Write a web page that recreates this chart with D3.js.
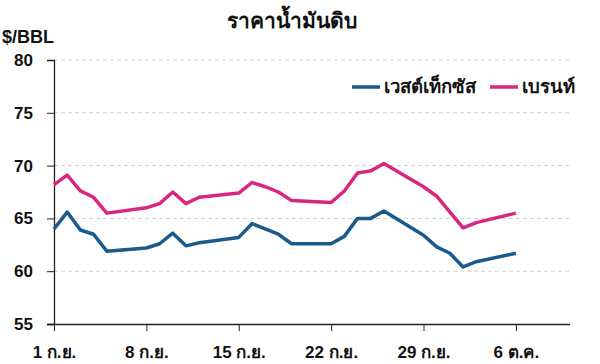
<!DOCTYPE html>
<html><head><meta charset="utf-8">
<script src="https://cdn.jsdelivr.net/npm/d3@7/dist/d3.min.js"></script>
<style>body{margin:0;background:#fff}text{font-family:"Liberation Sans","Noto Sans","DejaVu Sans",sans-serif}</style>
</head><body><svg id="c" width="600" height="364"></svg>
<script>
// day number counted from 1 September (1..36 => 6 October)
const days = [1,2,3,4,5,8,9,10,11,12,15,16,17,18,19,22,23,24,25,26,29,30,31,32,33,36];
const wti   = [64.0,65.6,63.9,63.5,61.9,62.2,62.6,63.6,62.4,62.7,63.2,64.5,64.0,63.5,62.6,62.6,63.3,65.0,65.0,65.7,63.4,62.3,61.7,60.4,60.9,61.7];
const brent = [68.2,69.1,67.6,67.0,65.5,66.0,66.4,67.5,66.4,67.0,67.4,68.4,68.0,67.5,66.7,66.5,67.6,69.3,69.5,70.2,68.0,67.1,65.6,64.1,64.6,65.5];
const xTickDays = [1,8,15,22,29,36];
const xTickLabels = ["1 ก.ย.","8 ก.ย.","15 ก.ย.","22 ก.ย.","29 ก.ย.","6 ต.ค."];
const yTicks = [55,60,65,70,75,80];
const seriesNames = ["เวสต์เท็กซัส","เบรนท์"];
const colors = ["#1b5a8a","#d9277f"];

const svg = d3.select("#c");
const x = d3.scaleLinear().domain([1,40.1]).range([54,570]);
const y = d3.scaleLinear().domain([55,80]).range([324,60]);

// grid
svg.append("g").selectAll("line").data(yTicks.filter(v=>v>55)).join("line")
  .attr("x1",54).attr("x2",570).attr("y1",d=>y(d)).attr("y2",d=>y(d))
  .attr("stroke","#cfcfcf").attr("stroke-width",1).attr("stroke-dasharray","4,3");

// y axis
const ya = svg.append("g").attr("transform","translate(54,0)")
  .call(d3.axisLeft(y).tickValues(yTicks).tickSize(7).tickPadding(14));
ya.select(".domain").attr("stroke","#222").attr("stroke-width",1.3);
ya.selectAll(".tick line").attr("stroke","#222");
ya.selectAll("text").attr("font-size",17).attr("fill","#111").attr("font-weight",700);

// x axis
const xa = svg.append("g").attr("transform","translate(0,324)")
  .call(d3.axisBottom(x).tickValues(xTickDays).tickFormat((d,i)=>xTickLabels[i]).tickSize(7).tickSizeOuter(0).tickPadding(15));
xa.select(".domain").attr("d","M47,0.5H570").attr("stroke","#222").attr("stroke-width",1.3);
xa.selectAll(".tick line").attr("stroke","#222");
xa.selectAll("text").attr("font-size",17).attr("fill","#111").attr("font-weight",700);

// lines
const line = d3.line().x((d,i)=>x(days[i])).y(d=>y(d));
[wti,brent].forEach((s,k)=>{
  svg.append("path").datum(s).attr("d",line).attr("fill","none")
    .attr("stroke",colors[k]).attr("stroke-width",3.5).attr("stroke-linejoin","round");
});

// title and unit
svg.append("text").attr("x",292).attr("y",28).attr("text-anchor","middle")
  .attr("font-size",21).attr("font-weight",700).attr("fill","#111").text("ราคาน้ำมันดิบ");
svg.append("text").attr("x",2).attr("y",43)
  .attr("font-size",18).attr("font-weight",700).attr("fill","#111").text("$/BBL");

// legend
const lg = [{x:352,t:seriesNames[0],c:colors[0]},{x:490,t:seriesNames[1],c:colors[1]}];
lg.forEach(l=>{
  svg.append("line").attr("x1",l.x).attr("x2",l.x+28).attr("y1",87).attr("y2",87)
    .attr("stroke",l.c).attr("stroke-width",3.5);
  svg.append("text").attr("x",l.x+32).attr("y",93).attr("font-size",18.5)
    .attr("font-weight",700).attr("fill","#111").text(l.t);
});
</script></body></html>
